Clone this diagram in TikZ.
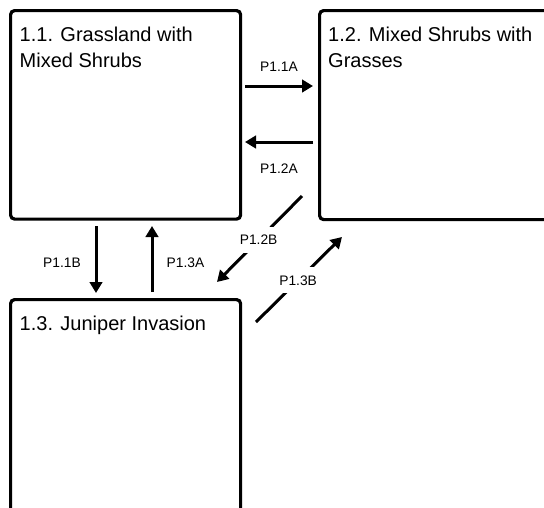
\documentclass[tikz,border=0pt]{standalone}
\usepackage{fontspec}
\setmainfont{Liberation Sans}
\usetikzlibrary{arrows.meta}
\begin{document}
\begin{tikzpicture}[x=1pt,y=-1pt,
  box/.style={draw=black, line width=3.2pt, rounded corners=4pt, inner sep=0pt, anchor=north west},
  title/.style={anchor=north west, font=\fontsize{20}{26}\selectfont, align=left, inner sep=0pt},
  lbl/.style={font=\fontsize{13.8}{16}\selectfont, inner sep=0pt},
  onlbl/.style={lbl, fill=white, minimum height=26pt, inner xsep=3pt},
  arr/.style={line width=3pt, -{Triangle[length=11pt,width=12.5pt]}}]
\useasboundingbox (0,0) rectangle (544,507);
\clip (0,0) rectangle (544,507);
\fill[white] (0,0) rectangle (544,507);
% boxes
\node[box, minimum width=230pt, minimum height=208.5pt] (b11) at (9,9) {};
\node[box, minimum width=302pt, minimum height=209pt] (b12) at (318,9) {};
\node[box, minimum width=230pt, minimum height=302pt] (b13) at (9,298) {};
% titles
\node[title] (t11) at (19.5,27) {1.1. Grassland with\\Mixed Shrubs};
\node[title] (t12) at (328,27) {1.2. Mixed Shrubs with\\Grasses};
\node[title] (t13) at (19.5,316) {1.3. Juniper Invasion};
% arrow ends
\coordinate (p11as) at (245,86);  \coordinate (p11ae) at (313,86);
\coordinate (p12as) at (313,142); \coordinate (p12ae) at (245,142);
\coordinate (p11bs) at (96,226);  \coordinate (p11be) at (96,293);
\coordinate (p13as) at (152,292); \coordinate (p13ae) at (152,226);
\coordinate (p12bs) at (302,196); \coordinate (p12be) at (217,282);
\coordinate (p13bs) at (256,322); \coordinate (p13be) at (342,237);
% arrows
\draw[arr] (p11as) -- (p11ae);
\draw[arr] (p12as) -- (p12ae);
\draw[arr] (p11bs) -- (p11be);
\draw[arr] (p13as) -- (p13ae);
\draw[arr] (p12bs) -- node[onlbl, pos=0.51] (l12b) {P1.2B} (p12be);
\draw[arr] (p13bs) -- node[onlbl, pos=0.49] (l13b) {P1.3B} (p13be);
% labels
\node[lbl] (l11a) at (279,67) {P1.1A};
\node[lbl] (l12a) at (279,169) {P1.2A};
\node[lbl] (l11b) at (62,263) {P1.1B};
\node[lbl] (l13a) at (185.5,263) {P1.3A};
\end{tikzpicture}
\end{document}
